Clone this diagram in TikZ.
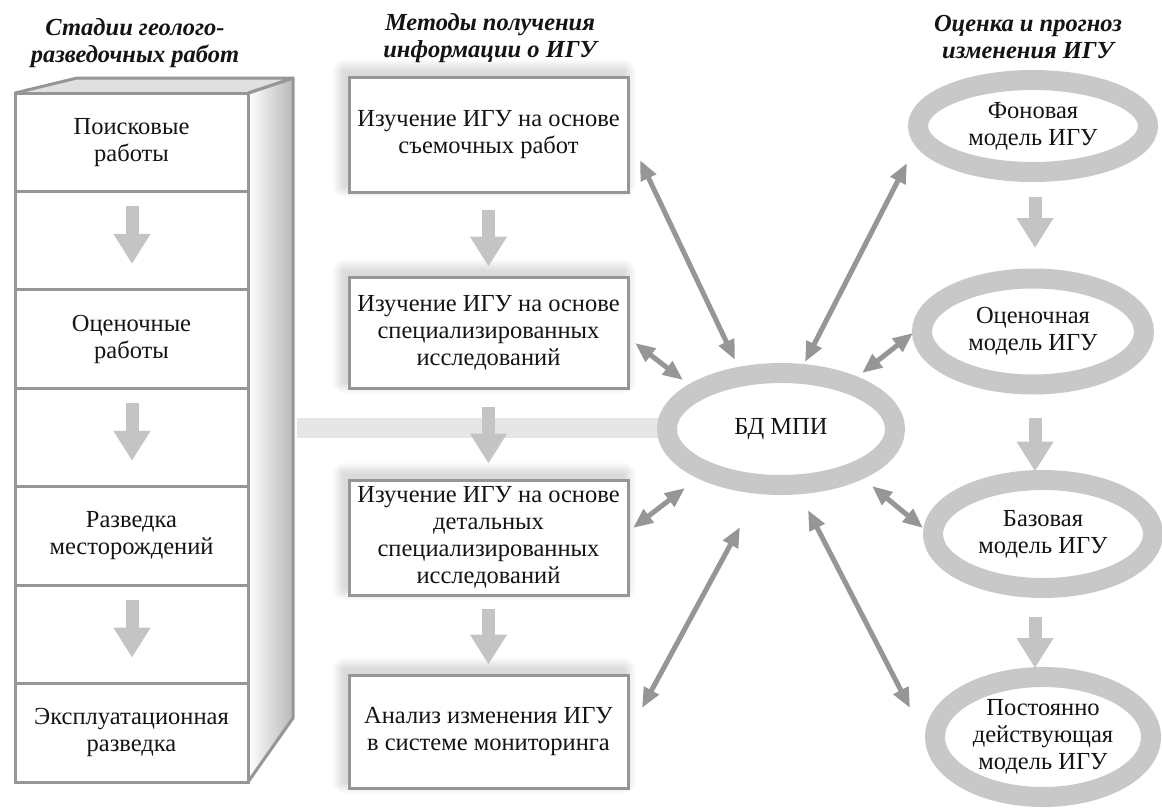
\documentclass[tikz,border=0pt]{standalone}
\usepackage{fontspec}
\setmainfont{Liberation Serif}
\usetikzlibrary{shapes.geometric,arrows.meta,backgrounds}
\definecolor{boxline}{RGB}{150,150,150}
\definecolor{ringc}{RGB}{200,200,200}
\definecolor{blockc}{RGB}{196,196,196}
\definecolor{dblc}{RGB}{150,150,150}
\definecolor{barc}{RGB}{230,230,230}
\definecolor{txtc}{RGB}{20,20,20}
\begin{document}
\begin{tikzpicture}[x=1pt,y=-1pt,
  txtfont/.style={font=\fontsize{24.5}{27}\selectfont, text=txtc},
  headtxt/.style={font=\fontsize{24.5}{27}\selectfont\bfseries\itshape, align=center, text=txtc},
  mbox/.style={draw=boxline, line width=3pt, fill=white, minimum width=279pt, minimum height=115pt,
    align=center, inner sep=0pt, txtfont},
  cell/.style={draw=boxline, line width=3pt, fill=white, minimum width=233pt, minimum height=98.43pt,
    inner sep=0pt, align=center, txtfont},
  ring/.style={ellipse, draw=ringc, line width=20pt, fill=white, align=center, inner sep=0pt, txtfont},
  blockarr/.style={draw=blockc, line width=13pt, -{Triangle[width=35pt,length=30pt]}},
  dbl/.style={draw=dblc, line width=5pt, {Triangle[width=16pt,length=20pt]}-{Triangle[width=16pt,length=20pt]}},
  glowlayer/.style={fill=black, opacity=0.013},
]
\useasboundingbox (0,0) rectangle (1162,809);

% headers
\node[headtxt] (h1) at (135,43.5) {Стадии геолого-\\разведочных работ};
\node[headtxt] (h2) at (490,38.5) {Методы получения\\информации о ИГУ};
\node[headtxt] (h3) at (1028,37.5) {Оценка и прогноз\\изменения ИГУ};

% horizontal bar
\coordinate (barL) at (297,428);
\draw[barc, line width=20pt] (barL) -- (700,428);

% left 3D column
\shade[left color=white, right color=black!28] (248,93) -- (293,78) -- (293,718) -- (248,782) -- cycle;
\draw[boxline, line width=3pt, line join=round] (248,93) -- (293,78) -- (293,718) -- (248,782);
\fill[black!12] (15,93) -- (77,78) -- (293,78) -- (248,93) -- cycle;
\draw[boxline, line width=3pt, line join=round] (15,93) -- (77,78) -- (293,78) -- (248,93);
\foreach \i in {1,...,7} {
  \pgfmathsetmacro{\yc}{93+98.43*(\i-0.5)}
  \node[cell] (c\i) at (131.5,\yc) {};
}
\node[txtfont, align=center] (s1) at (c1) {Поисковые\\работы};
\node[txtfont, align=center] (s2) at (c3) {Оценочные\\работы};
\node[txtfont, align=center] (s3) at (c5) {Разведка\\месторождений};
\node[txtfont, align=center] (s4) at (c7) {Эксплуатационная\\разведка};
\foreach \i in {2,4,6} {
  \draw[blockarr] ([yshift=-16pt]c\i.north -| 132,0) coordinate (t\i) -- ([yshift=-74pt]c\i.north -| 132,0);
}

% middle boxes
\node[mbox] (m1) at (488.5,134.5) {Изучение ИГУ на основе\\съемочных работ};
\node[mbox, minimum height=111pt] (m2) at (488.5,332.5) {Изучение ИГУ на основе\\специализированных\\исследований};
\node[mbox] (m3) at (488.5,537.5) {Изучение ИГУ на основе\\детальных\\специализированных\\исследований};
\node[mbox, minimum height=113pt] (m4) at (488.5,731.5) {Анализ изменения ИГУ\\в системе мониторинга};

\draw[blockarr] ([yshift=-16pt]m1.south) -- ([yshift=-73pt]m1.south);
\draw[blockarr] ([yshift=-17pt]m2.south) -- ([yshift=-74pt]m2.south);
\draw[blockarr] ([yshift=-12pt]m3.south) -- ([yshift=-68pt]m3.south);

% ellipses
\node[ring, minimum width=228pt, minimum height=112pt] (bd) at (781,429) {БД МПИ};
\node[ring, minimum width=230pt, minimum height=92pt] (e1) at (1033,126) {Фоновая\\модель ИГУ};
\node[ring, minimum width=222pt, minimum height=106pt] (e2) at (1033,331.5) {Оценочная\\модель ИГУ};
\node[ring, minimum width=220pt, minimum height=108pt] (e3) at (1043,534) {Базовая\\модель ИГУ};
\node[ring, minimum width=216pt, minimum height=120pt] (e4) at (1043,737) {Постоянно\\действующая\\модель ИГУ};

\draw[blockarr] ([yshift=-15pt]e1.south -| 1035,0) -- ([yshift=-66pt]e1.south -| 1035,0);
\draw[blockarr] ([yshift=-23pt]e2.south -| 1035,0) -- ([yshift=-77pt]e2.south -| 1035,0);
\draw[blockarr] ([yshift=-19pt]e3.south -| 1035,0) -- ([yshift=-70pt]e3.south -| 1035,0);

% double arrows
\coordinate (p1a) at (640,160); \coordinate (p1b) at (735,360);
\coordinate (p2a) at (635,343); \coordinate (p2b) at (683,380);
\coordinate (p3a) at (633,528); \coordinate (p3b) at (685,488);
\coordinate (p4a) at (642,708); \coordinate (p4b) at (740,527);
\coordinate (p5a) at (805,362); \coordinate (p5b) at (907,163);
\coordinate (p6a) at (862,373); \coordinate (p6b) at (913,333);
\coordinate (p7a) at (872,486); \coordinate (p7b) at (923,528);
\coordinate (p8a) at (808,510); \coordinate (p8b) at (910,708);
\foreach \k in {1,...,8} { \draw[dbl] (p\k a) -- (p\k b); }

% soft glow behind the middle boxes
\begin{pgfonlayer}{background}
  \fill[white] (0,0) rectangle (1162,809);
  \foreach \n in {m1,m2,m3,m4} {
    \foreach \k in {1,...,12} {
      \fill[glowlayer, rounded corners=\k pt]
        ([shift={(-3-\k,-4-\k)}]\n.north west) rectangle ([shift={(\k-6,\k-8)}]\n.south east);
    }
  }
\end{pgfonlayer}
\end{tikzpicture}
\end{document}
